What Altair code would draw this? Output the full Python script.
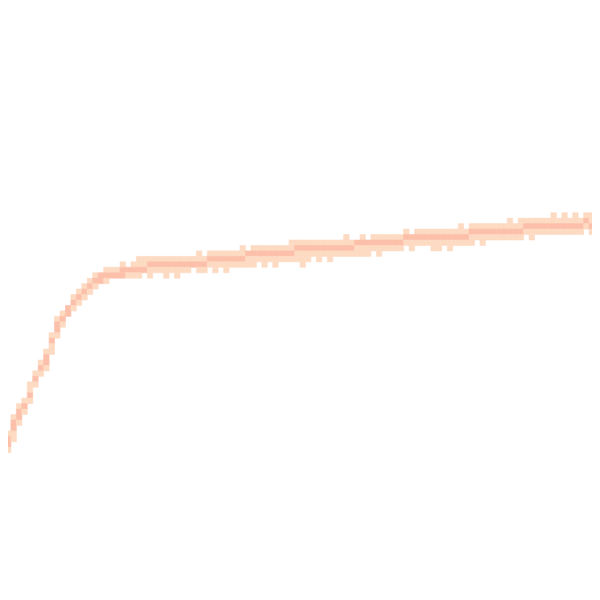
import altair as alt
import pandas as pd

# column index of each grid cell column (grid of 110 x 110 cells over the 600px picture)
cols = list(range(110))
# top / bottom occupied row of each column, and the darker core rows
top_row = [82, 79, 76, 74, 73, 70, 68, 66, 64, 61, 58, 57, 56, 54, 53, 52, 51, 50, 50, 49,
           49, 49, 48, 49, 48, 47, 47, 47, 47, 47, 47, 47, 47, 47, 47, 47, 46, 47, 46, 46,
           46, 46, 46, 46, 45, 46, 45, 45, 45, 45, 45, 45, 45, 44, 44, 44, 44, 44, 44, 44,
           44, 44, 44, 43, 44, 44, 43, 44, 43, 43, 43, 43, 43, 43, 42, 43, 42, 42, 42, 42,
           42, 42, 42, 42, 41, 42, 41, 41, 41, 41, 41, 41, 41, 40, 41, 40, 40, 40, 40, 40,
           40, 39, 40, 39, 40, 39, 40, 39, 39, 39]
bottom_row = [84, 82, 80, 77, 75, 73, 70, 68, 67, 64, 61, 59, 57, 56, 55, 54, 53, 52, 51, 51,
              50, 50, 50, 50, 50, 50, 49, 50, 49, 49, 50, 49, 50, 49, 49, 48, 49, 49, 48, 49,
              48, 49, 48, 48, 48, 48, 48, 47, 48, 47, 48, 47, 47, 47, 47, 48, 47, 46, 47, 46,
              47, 46, 46, 46, 46, 46, 46, 46, 45, 46, 45, 45, 45, 45, 44, 45, 44, 44, 44, 45,
              45, 44, 45, 44, 44, 44, 44, 43, 44, 43, 43, 43, 43, 43, 43, 43, 42, 43, 42, 42,
              42, 42, 42, 42, 42, 42, 42, 41, 42, 41]
dark_top = [82, 80, 77, 75, 74, 72, 69, 67, 65, 62, 59, 58, 56, 55, 54, 53, 52, 51, 50, 50,
            50, 50, 49, 49, 49, 49, 49, 48, 48, 48, 48, 48, 48, 48, 48, 48, 48, 48, 47, 47,
            47, 47, 47, 47, 47, 46, 46, 46, 46, 46, 46, 46, 46, 46, 45, 45, 45, 45, 45, 45,
            45, 45, 45, 45, 45, 44, 44, 44, 44, 44, 44, 44, 44, 44, 43, 43, 43, 43, 43, 43,
            43, 43, 43, 43, 43, 43, 42, 42, 42, 42, 42, 42, 42, 42, 42, 42, 41, 41, 41, 41,
            41, 41, 41, 41, 41, 41, 41, 40, 41, 40]
dark_bottom = [83, 81, 78, 76, 74, 72, 69, 67, 66, 62, 60, 58, 57, 55, 54, 53, 52, 51, 51, 50,
               50, 50, 50, 49, 49, 49, 49, 48, 48, 48, 48, 48, 48, 48, 48, 48, 48, 48, 47, 47,
               47, 47, 47, 47, 47, 46, 46, 46, 46, 46, 46, 46, 46, 46, 45, 45, 45, 45, 45, 45,
               45, 45, 45, 45, 45, 44, 44, 44, 44, 44, 44, 44, 44, 44, 43, 43, 43, 43, 43, 43,
               43, 43, 43, 43, 43, 43, 42, 42, 42, 42, 42, 42, 42, 42, 42, 42, 41, 41, 41, 41,
               41, 41, 41, 41, 41, 41, 41, 40, 41, 40]

records = []
for c, t, b, dt, db in zip(cols, top_row, bottom_row, dark_top, dark_bottom):
    for r in range(t, b + 1):
        level = 3 if dt <= r <= db else 1
        records.append({"col": c, "row": r, "level": level})
df = pd.DataFrame(records)

cell = 600 / 110
xdom = [8 / cell, 592 / cell]
colour_scale = alt.Scale(domain=[1, 3], range=["#fddac2", "#fcbfa9"])

chart = (
    alt.Chart(df)
    .transform_calculate(col2="datum.col + 1", row2="datum.row + 1")
    .mark_rect(clip=True, strokeWidth=0.6)
    .encode(
        x=alt.X("col:Q", scale=alt.Scale(domain=xdom, nice=False, zero=False), axis=None),
        x2="col2:Q",
        y=alt.Y("row:Q", scale=alt.Scale(domain=xdom, nice=False, zero=False, reverse=True), axis=None),
        y2="row2:Q",
        color=alt.Color("level:Q", scale=colour_scale, legend=None),
        stroke=alt.Stroke("level:Q", scale=colour_scale, legend=None),
    )
    .properties(width=584, height=584, padding=0)
    .configure_view(stroke=None)
)

chart.save("out.html", embed_options={"renderer": "svg", "actions": False})
